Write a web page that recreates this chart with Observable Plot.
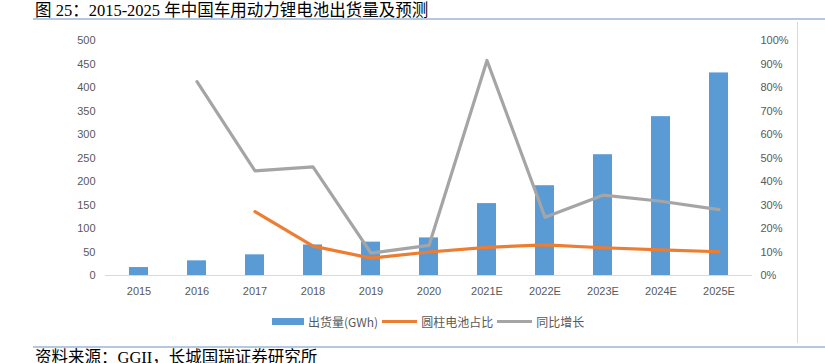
<!DOCTYPE html>
<html><head><meta charset="utf-8">
<script src="https://cdn.jsdelivr.net/npm/d3@7"></script>
<script src="https://cdn.jsdelivr.net/npm/@observablehq/plot@0.6"></script>
<style>
html,body{margin:0;padding:0;background:#fff;width:825px;height:363px;overflow:hidden;position:relative;}
#title{position:absolute;left:35px;top:-3px;font:16.5px "Liberation Serif","Noto Sans CJK SC",serif;color:#000;white-space:nowrap;}
#tline{position:absolute;left:33px;right:0;top:18px;height:2px;background:#b4c8e0;}
#fline{position:absolute;left:33px;right:0;top:346px;height:2px;background:#b4c8e0;}
#foot{position:absolute;left:35px;top:344px;font:16.5px "Liberation Serif","Noto Sans CJK SC",serif;color:#000;white-space:nowrap;}
#vline{position:absolute;left:797px;top:22px;width:1px;height:321px;background:#d9d9d9;}
#chart{position:absolute;left:0;top:30px;}
#legend{position:absolute;top:313px;left:272px;font:12px "Noto Sans CJK SC",sans-serif;color:#595959;display:flex;align-items:center;white-space:nowrap;}
#legend .sw{display:inline-block;}
</style></head><body>
<div id="title">图 25：2015-2025 年中国车用动力锂电池出货量及预测</div>
<div id="tline"></div>
<div id="vline"></div>
<div id="chart"></div>
<div id="legend"></div>
<div id="fline"></div>
<div id="foot">资料来源：GGII，长城国瑞证券研究所</div>
<script>
const years = ["2015","2016","2017","2018","2019","2020","2021E","2022E","2023E","2024E","2025E"];
const shipments = [16.9, 31.2, 44, 65, 71, 80, 153, 191, 257, 338, 431];
const cylShare = [null, null, 27.2, 12.5, 7.4, 10, 12, 13, 11.8, 10.9, 10.1];
const yoy = [null, 82.5, 44.5, 46.2, 9.5, 12.8, 91.5, 24.8, 34.2, 31.6, 28];
const leftTicks = [0,50,100,150,200,250,300,350,400,450,500];
const rightTicks = [0,10,20,30,40,50,60,70,80,90,100];
const seriesNames = ["出货量(GWh)", "圆柱电池占比", "同比增长"];
const colors = ["#5b9bd5", "#ed7d31", "#a5a5a5"];

const rows = years.map((y, i) => ({year: y, ship: shipments[i], cyl: cylShare[i], yoy: yoy[i]}));
const k = 500 / 100;
const font = "Liberation Sans, Arial, sans-serif";

const plot = Plot.plot({
  width: 825, height: 280,
  marginLeft: 105, marginRight: 73, marginTop: 10, marginBottom: 35,
  style: {fontFamily: font, fontSize: "11px", color: "#595959", background: "transparent"},
  x: {domain: years, paddingInner: 0.68, paddingOuter: 0.34, label: null},
  y: {domain: [0, 500], label: null},
  marks: [
    Plot.axisX({tickSize: 0, tickPadding: 12, label: null, fontSize: 11}),
    Plot.axisY({anchor: "left", ticks: leftTicks, tickSize: 0, tickPadding: 10, label: null}),
    Plot.axisY({anchor: "right", ticks: rightTicks.map(t => t * k), tickFormat: d => (d / k) + "%", tickSize: 0, tickPadding: 8, textAnchor: "start", label: null}),
    Plot.barY(rows, {x: "year", y: "ship", fill: colors[0]}),
    Plot.ruleY([0], {stroke: "#d9d9d9"}),
    Plot.line(rows.filter(d => d.cyl != null), {x: "year", y: d => d.cyl * k, stroke: colors[1], strokeWidth: 3.2}),
    Plot.line(rows.filter(d => d.yoy != null), {x: "year", y: d => d.yoy * k, stroke: colors[2], strokeWidth: 3.2})
  ]
});
document.getElementById("chart").appendChild(plot);

const lg = document.getElementById("legend");
seriesNames.forEach((n, i) => {
  const sw = document.createElement("span");
  sw.className = "sw";
  if (i === 0) { sw.style.width = "32px"; sw.style.height = "7px"; }
  else { sw.style.width = "35px"; sw.style.height = "3px"; }
  sw.style.background = colors[i];
  sw.style.marginRight = "4px";
  const t = document.createElement("span");
  t.textContent = n;
  t.style.marginRight = "4px";
  lg.appendChild(sw); lg.appendChild(t);
});
</script>
</body></html>
